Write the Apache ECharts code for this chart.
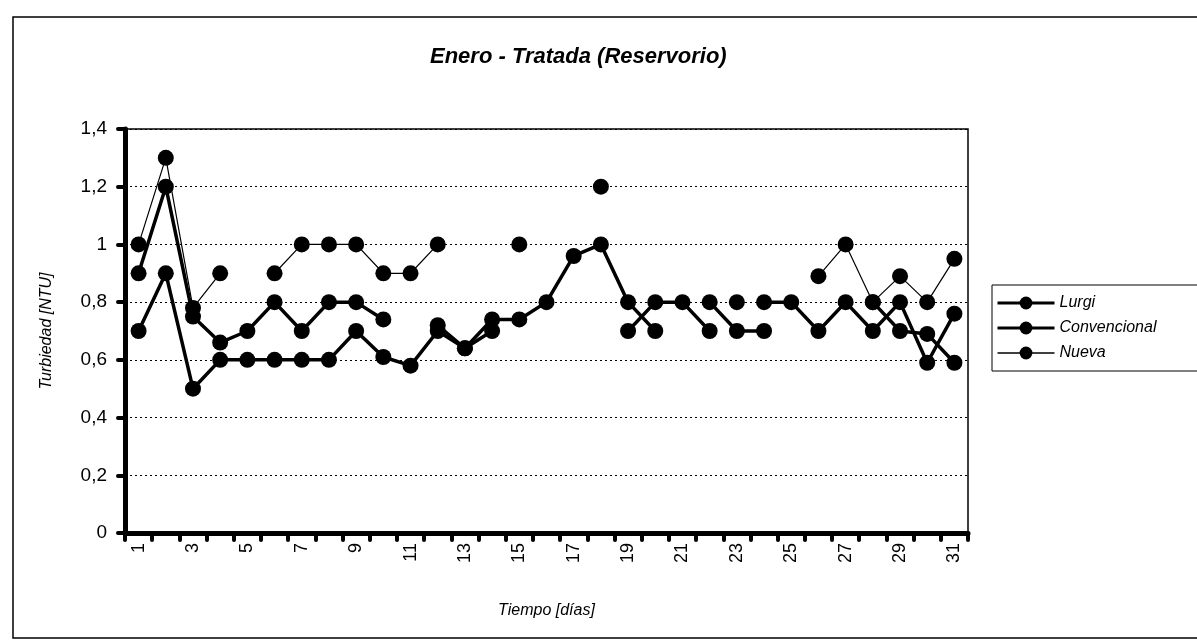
<!DOCTYPE html>
<html>
<head>
<meta charset="utf-8">
<title>Enero - Tratada (Reservorio)</title>
<script src="https://cdn.jsdelivr.net/npm/echarts@6/dist/echarts.min.js"></script>
<style>
  html, body { margin: 0; padding: 0; background: #fff; }
  #chart { width: 1197px; height: 640px; }
</style>
</head>
<body>
<div id="chart"></div>
<script>
// dias del mes
const days = [];
for (let d = 1; d <= 31; d++) days.push(String(d));

// turbiedad [NTU], null = sin dato
const lurgi = [0.9, 1.2, 0.75, 0.66, 0.7, 0.8, 0.7, 0.8, 0.8, 0.74,
  null, 0.72, 0.64, 0.74, 0.74, 0.8, 0.96, 1.0, 0.8, 0.7,
  null, 0.8, 0.7, 0.7, null, null, null, 0.8, 0.7, 0.69, 0.59];
const convencional = [0.7, 0.9, 0.5, 0.6, 0.6, 0.6, 0.6, 0.6, 0.7, 0.61,
  0.58, 0.7, 0.64, 0.7, null, null, null, null, 0.7, 0.8,
  0.8, 0.7, null, 0.8, 0.8, 0.7, 0.8, 0.7, 0.8, 0.59, 0.76];
const nueva = [1.0, 1.3, 0.78, 0.9, null, 0.9, 1.0, 1.0, 1.0, 0.9,
  0.9, 1.0, null, null, 1.0, null, null, 1.2, null, null,
  null, null, 0.8, null, null, 0.89, 1.0, 0.8, 0.89, 0.8, 0.95];

const font = 'Liberation Sans, Arial, sans-serif';

let chart = echarts.init(document.getElementById('chart'));

function lineSeries(name, data, width) {
  return {
    name: name,
    type: 'line',
    data: data,
    symbol: 'circle',
    symbolSize: 16,
    connectNulls: false,
    itemStyle: { color: '#000' },
    lineStyle: { color: '#000', width: width },
    emphasis: { disabled: true }
  };
}

let option = {
  animation: false,
  backgroundColor: '#fff',
  graphic: [{
    type: 'rect',
    shape: { x: 13, y: 17, width: 1220, height: 621 },
    style: { fill: null, stroke: '#000', lineWidth: 1.5 },
    silent: true
  }],
  title: {
    text: 'Enero - Tratada (Reservorio)',
    left: 425,
    top: 41,
    textStyle: { fontFamily: font, fontSize: 22, fontWeight: 'bold', fontStyle: 'italic', color: '#000' }
  },
  legend: {
    orient: 'vertical',
    left: 992,
    top: 285,
    padding: [10, 60, 10, 4],
    itemGap: 9,
    itemWidth: 57,
    itemHeight: 16,
    borderColor: '#000',
    borderWidth: 1,
    textStyle: { fontFamily: font, fontSize: 16, fontStyle: 'italic', color: '#000' },
    data: [
      { name: 'Lurgi', lineStyle: { width: 3, color: '#000' } },
      { name: 'Convencional', lineStyle: { width: 3, color: '#000' } },
      { name: 'Nueva', lineStyle: { width: 1.5, color: '#000', opacity: 1 } }
    ]
  },
  grid: {
    left: 125,
    right: 229,
    top: 129,
    bottom: 107,
    show: true,
    borderColor: '#000',
    borderWidth: 1.5
  },
  xAxis: {
    type: 'category',
    data: days,
    boundaryGap: true,
    name: 'Tiempo [días]',
    nameLocation: 'middle',
    nameGap: 70,
    nameTextStyle: { fontFamily: font, fontSize: 16, fontStyle: 'italic', color: '#000' },
    axisLine: { lineStyle: { color: '#000', width: 5 } },
    axisTick: { show: true, interval: 0, length: 7, lineStyle: { color: '#000', width: 4, cap: 'round' } },
    axisLabel: { interval: 1, rotate: 90, margin: 10, fontFamily: font, fontSize: 18, color: '#000' },
    splitLine: { show: false }
  },
  yAxis: {
    type: 'value',
    min: 0,
    max: 1.4,
    interval: 0.2,
    name: 'Turbiedad [NTU]',
    nameLocation: 'middle',
    nameGap: 70,
    nameTextStyle: { fontFamily: font, fontSize: 16, fontStyle: 'italic', color: '#000' },
    axisLine: { show: true, lineStyle: { color: '#000', width: 5 } },
    axisTick: { show: true, length: 7, lineStyle: { color: '#000', width: 4, cap: 'round' } },
    axisLabel: {
      margin: 18,
      fontFamily: font,
      fontSize: 19,
      color: '#000',
      formatter: v => String(Math.round(v * 10) / 10).replace('.', ',')
    },
    splitLine: { show: true, lineStyle: { color: '#000', width: 1, type: [2, 3] } }
  },
  series: [
    lineSeries('Lurgi', lurgi, 3.5),
    lineSeries('Convencional', convencional, 3.5),
    lineSeries('Nueva', nueva, 1.2)
  ]
};

option && chart.setOption(option);
</script>
</body>
</html>
